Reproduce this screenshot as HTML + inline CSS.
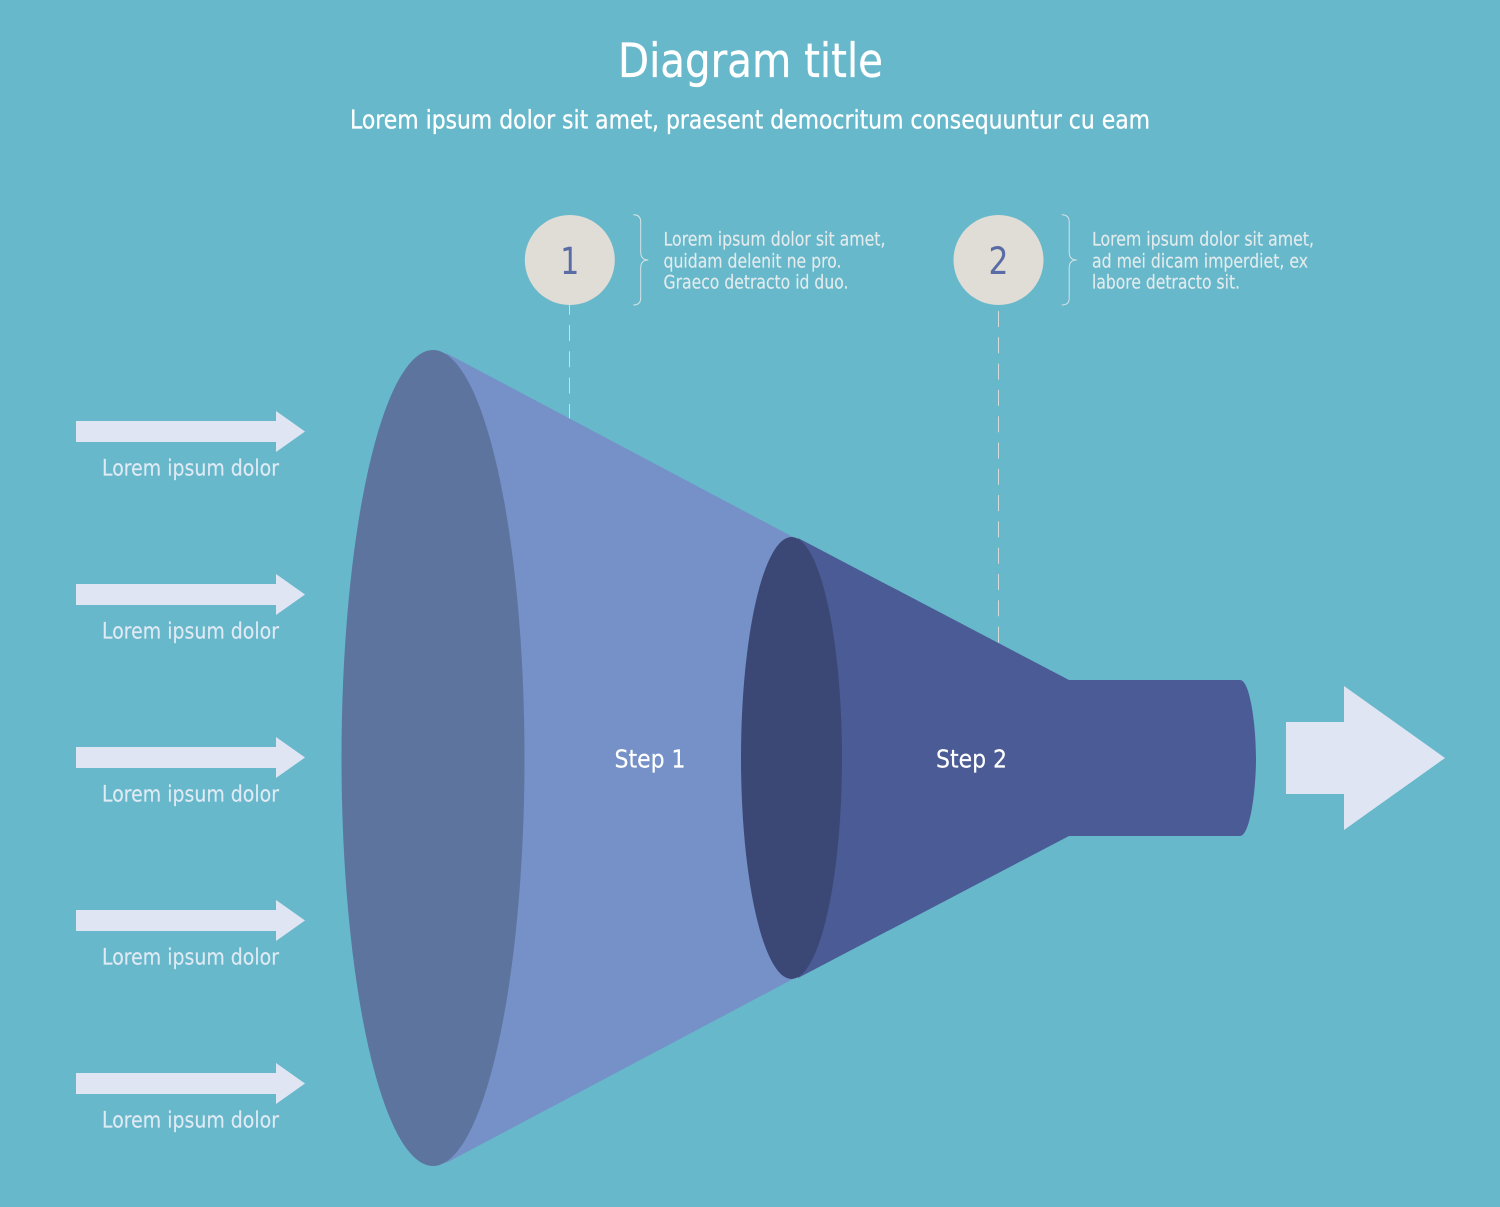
<!DOCTYPE html>
<html>
<head>
<meta charset="utf-8">
<title>Diagram title</title>
<style>
html,body{margin:0;padding:0;background:#67b8cb;}
svg{display:block;}
text{font-family:"DejaVu Sans","Liberation Sans",sans-serif;}
</style>
</head>
<body>
<svg xmlns="http://www.w3.org/2000/svg" width="1500" height="1207" viewBox="0 0 1500 1207">
<rect width="1500" height="1207" fill="#67b8cb"/>

<text x="618" y="77" font-size="47" fill="#ffffff" stroke="#ffffff" stroke-width="0.3" textLength="265" lengthAdjust="spacingAndGlyphs">Diagram title</text>
<text x="350" y="128.5" font-size="26" fill="#ffffff" stroke="#ffffff" stroke-width="0.3" textLength="800" lengthAdjust="spacingAndGlyphs">Lorem ipsum dolor sit amet, praesent democritum consequuntur cu eam</text>

<line x1="569.5" y1="298.7" x2="569.5" y2="420" stroke="#d8dcd8" stroke-width="1" stroke-dasharray="16 10.3"/>
<line x1="998.5" y1="311" x2="998.5" y2="644" stroke="#d8dcd8" stroke-width="1" stroke-dasharray="16 10.3"/>

<circle cx="569.8" cy="260" r="45" fill="#e0dcd6"/>
<text x="569.8" y="274" font-size="37" fill="#5a6ca5" text-anchor="middle" textLength="19" lengthAdjust="spacingAndGlyphs">1</text>
<path d="M633.3 214.7 C638 214.7 640.7 217 640.7 222 L640.7 252 C640.7 257 643 260 648.3 260 C643 260 640.7 263 640.7 268 L640.7 298 C640.7 303 638 305 633.3 305" fill="none" stroke="#d5e3e6" stroke-width="1"/>
<g font-size="18.5" fill="#e3ebed" stroke="#e3ebed" stroke-width="0.15">
<text x="663.5" y="245.5" textLength="222" lengthAdjust="spacingAndGlyphs">Lorem ipsum dolor sit amet,</text>
<text x="663.5" y="267.5" textLength="178" lengthAdjust="spacingAndGlyphs">quidam delenit ne pro.</text>
<text x="663.5" y="288.5" textLength="185" lengthAdjust="spacingAndGlyphs">Graeco detracto id duo.</text>
</g>

<circle cx="998.5" cy="260" r="45" fill="#e0dcd6"/>
<text x="998.5" y="274" font-size="37" fill="#5a6ca5" text-anchor="middle" textLength="20" lengthAdjust="spacingAndGlyphs">2</text>
<path d="M1061.8 214.7 C1066.5 214.7 1069.2 217 1069.2 222 L1069.2 252 C1069.2 257 1071.5 260 1076.8 260 C1071.5 260 1069.2 263 1069.2 268 L1069.2 298 C1069.2 303 1066.5 305 1061.8 305" fill="none" stroke="#d5e3e6" stroke-width="1"/>
<g font-size="18.5" fill="#e3ebed" stroke="#e3ebed" stroke-width="0.15">
<text x="1092" y="245.5" textLength="222" lengthAdjust="spacingAndGlyphs">Lorem ipsum dolor sit amet,</text>
<text x="1092" y="267.5" textLength="216" lengthAdjust="spacingAndGlyphs">ad mei dicam imperdiet, ex</text>
<text x="1092" y="288.5" textLength="148" lengthAdjust="spacingAndGlyphs">labore detracto sit.</text>
</g>

<path d="M446 353 L793 537 L793 979 L446 1163 Z" fill="#7591c8"/>
<path d="M798 538 L1069 680 L1240 680 C1250 680 1256 725 1256 758 C1256 791 1250 836 1240 836 L1069 836 L798 978 Z" fill="#4a5b95"/>
<ellipse cx="433" cy="758" rx="91.5" ry="408" fill="#5d749f"/>
<ellipse cx="791.5" cy="758" rx="50.5" ry="221" fill="#3b4876"/>

<text x="614.5" y="767.5" font-size="25" fill="#ffffff" stroke="#ffffff" stroke-width="0.2" textLength="71" lengthAdjust="spacingAndGlyphs">Step 1</text>
<text x="936" y="767.5" font-size="25" fill="#ffffff" stroke="#ffffff" stroke-width="0.2" textLength="71" lengthAdjust="spacingAndGlyphs">Step 2</text>

<g fill="#e0e5f3">
<path d="M76 421H276V411L305 431.5L276 452V442H76Z"/>
<path d="M76 584H276V574L305 594.5L276 615V605H76Z"/>
<path d="M76 747H276V737L305 757.5L276 778V768H76Z"/>
<path d="M76 910H276V900L305 920.5L276 941V931H76Z"/>
<path d="M76 1073H276V1063L305 1083.5L276 1104V1094H76Z"/>
<path d="M1286 722H1344V686L1445 758L1344 830V794H1286Z"/>
</g>
<g font-size="22.5" fill="#dfeaf4" stroke="#dfeaf4" stroke-width="0.15">
<text x="102" y="475.5" textLength="177" lengthAdjust="spacingAndGlyphs">Lorem ipsum dolor</text>
<text x="102" y="638.5" textLength="177" lengthAdjust="spacingAndGlyphs">Lorem ipsum dolor</text>
<text x="102" y="801.5" textLength="177" lengthAdjust="spacingAndGlyphs">Lorem ipsum dolor</text>
<text x="102" y="964.5" textLength="177" lengthAdjust="spacingAndGlyphs">Lorem ipsum dolor</text>
<text x="102" y="1127.5" textLength="177" lengthAdjust="spacingAndGlyphs">Lorem ipsum dolor</text>
</g>
</svg>
</body>
</html>
